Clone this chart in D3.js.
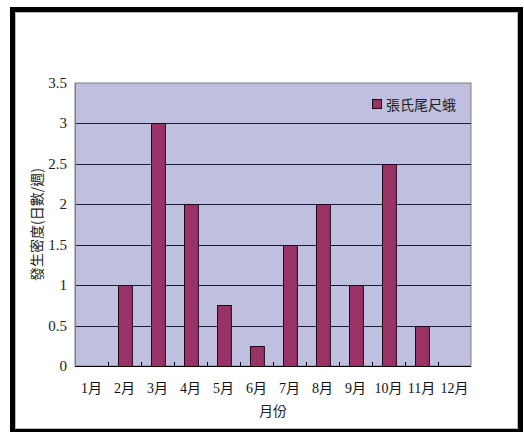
<!DOCTYPE html>
<html>
<head>
<meta charset="utf-8">
<script src="https://cdn.jsdelivr.net/npm/d3@7/dist/d3.min.js"></script>
<style>
  body { margin: 0; background: #fff; }
  text { font-family: "Liberation Serif", "Noto Sans CJK TC", serif; }
  .cjk { font-family: "Noto Sans CJK TC", sans-serif; }
</style>
</head>
<body>
<div id="chart"></div>
<script>
// data
var months = ['1月', '2月', '3月', '4月', '5月', '6月', '7月', '8月', '9月', '10月', '11月', '12月'];
var density = [0, 1, 3, 2, 0.75, 0.25, 1.5, 2, 1, 2.5, 0.5, 0];
var yTicks = [0, 0.5, 1, 1.5, 2, 2.5, 3, 3.5];
var seriesName = '張氏尾尺蛾';
var yTitle = '發生密度(日數/週)';
var xTitle = '月份';

var width = 524, height = 432;
var plot = { left: 75, top: 83, right: 471, bottom: 366 };

var svg = d3.select('#chart').append('svg')
  .attr('width', width)
  .attr('height', height);

// outer frame
svg.append('rect')
  .attr('x', 12.5).attr('y', 9.5)
  .attr('width', 508).attr('height', 422)
  .attr('fill', '#fff')
  .attr('stroke', '#000')
  .attr('stroke-width', 5);
svg.append('rect')
  .attr('x', 15.5).attr('y', 12.5)
  .attr('width', 502).attr('height', 416)
  .attr('fill', 'none')
  .attr('stroke', '#bbb')
  .attr('stroke-width', 1);

// scales
var x = d3.scaleBand()
  .domain(months)
  .range([plot.left, plot.right])
  .paddingInner(0.58)
  .paddingOuter(0.29);
var xCat = d3.scaleBand()
  .domain(months)
  .range([plot.left, plot.right]);
var y = d3.scaleLinear()
  .domain([0, 3.5])
  .range([plot.bottom, plot.top]);

// plot background
svg.append('rect')
  .attr('x', plot.left).attr('y', plot.top)
  .attr('width', plot.right - plot.left)
  .attr('height', plot.bottom - plot.top)
  .attr('fill', '#bfbfdf')
  .attr('stroke', '#808080')
  .attr('stroke-width', 1);

// gridlines
svg.append('g')
  .selectAll('line')
  .data(yTicks.filter(function (d) { return d > 0 && d < 3.5; }))
  .enter().append('line')
  .attr('x1', plot.left).attr('x2', plot.right)
  .attr('y1', function (d) { return Math.round(y(d)) + 0.5; })
  .attr('y2', function (d) { return Math.round(y(d)) + 0.5; })
  .attr('stroke', '#1a1a3a')
  .attr('stroke-width', 1);

// bars
svg.append('g')
  .selectAll('rect')
  .data(density)
  .enter().append('rect')
  .attr('x', function (d, i) { return Math.round(x(months[i])) + 0.5; })
  .attr('y', function (d) { return Math.round(y(d)) + 0.5; })
  .attr('width', x.bandwidth())
  .attr('height', function (d) { return Math.max(0, Math.round(y(0)) - Math.round(y(d))); })
  .attr('fill', '#993366')
  .attr('stroke', '#1a0a14')
  .attr('stroke-width', 1)
  .style('display', function (d) { return d > 0 ? null : 'none'; });

// x axis line + ticks between categories
var xAxis = svg.append('g');
xAxis.append('line')
  .attr('x1', plot.left).attr('x2', plot.right)
  .attr('y1', plot.bottom + 0.5).attr('y2', plot.bottom + 0.5)
  .attr('stroke', '#000');
xAxis.selectAll('.tick')
  .data(months.slice(1))
  .enter().append('line')
  .attr('x1', function (d) { return Math.round(xCat(d)) + 0.5; })
  .attr('x2', function (d) { return Math.round(xCat(d)) + 0.5; })
  .attr('y1', plot.bottom).attr('y2', plot.bottom - 4)
  .attr('stroke', '#000');
xAxis.selectAll('.lbl')
  .data(months)
  .enter().append('text')
  .attr('x', function (d) { return xCat(d) + xCat.bandwidth() / 2; })
  .attr('y', plot.bottom + 27)
  .attr('text-anchor', 'middle')
  .attr('font-size', 14)
  .attr('fill', '#111')
  .text(function (d) { return d; });

// y axis
var yAxis = svg.append('g');
yAxis.append('line')
  .attr('x1', plot.left + 0.5).attr('x2', plot.left + 0.5)
  .attr('y1', plot.top).attr('y2', plot.bottom)
  .attr('stroke', '#808080');
yAxis.selectAll('text')
  .data(yTicks)
  .enter().append('text')
  .attr('x', plot.left - 8)
  .attr('y', function (d) { return y(d) + 5; })
  .attr('text-anchor', 'end')
  .attr('font-size', 15)
  .attr('fill', '#222')
  .text(function (d) { return d; });

// axis titles
svg.append('text')
  .attr('class', 'cjk')
  .attr('transform', 'translate(42,' + ((plot.top + plot.bottom) / 2) + ') rotate(-90)')
  .attr('text-anchor', 'middle')
  .attr('font-size', 14)
  .attr('fill', '#222')
  .text(yTitle);
svg.append('text')
  .attr('class', 'cjk')
  .attr('x', (plot.left + plot.right) / 2)
  .attr('y', plot.bottom + 50)
  .attr('text-anchor', 'middle')
  .attr('font-size', 14)
  .attr('fill', '#222')
  .text(xTitle);

// legend
var legend = svg.append('g').attr('transform', 'translate(372,99)');
legend.append('rect')
  .attr('x', 0.5).attr('y', 0.5)
  .attr('width', 9).attr('height', 9)
  .attr('fill', '#993366')
  .attr('stroke', '#1a0a14');
legend.append('text')
  .attr('class', 'cjk')
  .attr('x', 14).attr('y', 10.5)
  .attr('font-size', 14)
  .attr('fill', '#222')
  .text(seriesName);
</script>
</body>
</html>
